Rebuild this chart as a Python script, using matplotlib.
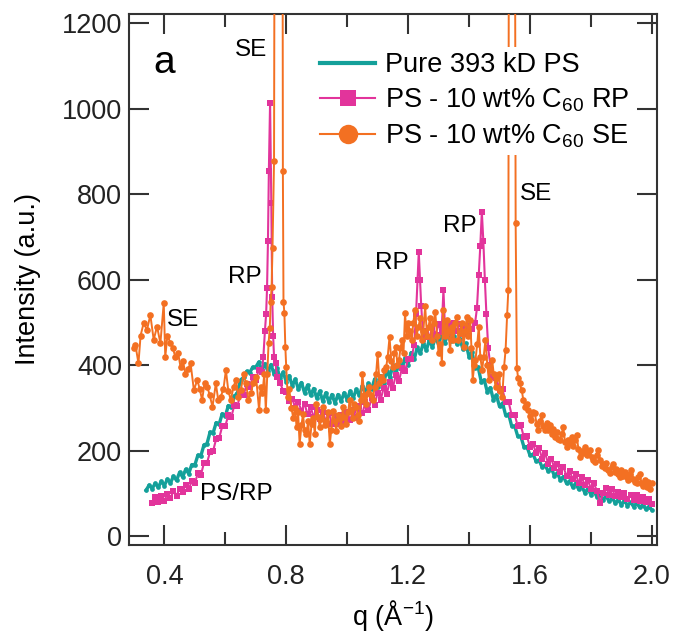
import matplotlib.pyplot as plt
from matplotlib.lines import Line2D

plt.rcParams['font.family'] = ['Liberation Sans', 'DejaVu Sans']
plt.rcParams['mathtext.fontset'] = 'custom'
plt.rcParams['mathtext.rm'] = 'Liberation Sans'
plt.rcParams['mathtext.it'] = 'Liberation Sans:italic'

# Pure 393 kD PS
q_ps = [0.34, 0.35, 0.36, 0.37, 0.38, 0.39, 0.40, 0.41, 0.42, 0.43,
        0.44, 0.45, 0.46, 0.47, 0.48, 0.49, 0.50, 0.51, 0.52, 0.53,
        0.54, 0.55, 0.56, 0.57, 0.58, 0.59, 0.60, 0.61, 0.62, 0.63,
        0.64, 0.65, 0.66, 0.67, 0.68, 0.69, 0.70, 0.71, 0.72, 0.73,
        0.74, 0.75, 0.76, 0.77, 0.78, 0.79, 0.80, 0.81, 0.82, 0.83,
        0.84, 0.85, 0.86, 0.87, 0.88, 0.89, 0.90, 0.91, 0.92, 0.93,
        0.94, 0.95, 0.96, 0.97, 0.98, 0.99, 1.00, 1.01, 1.02, 1.03,
        1.04, 1.05, 1.06, 1.07, 1.08, 1.09, 1.10, 1.11, 1.12, 1.13,
        1.14, 1.15, 1.16, 1.17, 1.18, 1.19, 1.20, 1.21, 1.22, 1.23,
        1.24, 1.25, 1.26, 1.27, 1.28, 1.29, 1.30, 1.31, 1.32, 1.33,
        1.34, 1.35, 1.36, 1.37, 1.38, 1.39, 1.40, 1.41, 1.42, 1.43,
        1.44, 1.45, 1.46, 1.47, 1.48, 1.49, 1.50, 1.51, 1.52, 1.53,
        1.54, 1.55, 1.56, 1.57, 1.58, 1.59, 1.60, 1.61, 1.62, 1.63,
        1.64, 1.65, 1.66, 1.67, 1.68, 1.69, 1.70, 1.71, 1.72, 1.73,
        1.74, 1.75, 1.76, 1.77, 1.78, 1.79, 1.80, 1.81, 1.82, 1.83,
        1.84, 1.85, 1.86, 1.87, 1.88, 1.89, 1.90, 1.91, 1.92, 1.93,
        1.94, 1.95, 1.96, 1.97, 1.98, 1.99, 2.00]
i_ps = [108, 120, 112, 124, 115, 129, 119, 134, 125, 141,
        131, 150, 139, 157, 147, 168, 167, 190, 189, 214,
        217, 244, 242, 266, 263, 287, 281, 306, 302, 328,
        336, 366, 372, 386, 383, 396, 396, 408, 388, 404,
        386, 402, 380, 394, 370, 384, 362, 376, 352, 368,
        344, 360, 336, 354, 330, 346, 324, 340, 316, 336,
        314, 332, 312, 332, 316, 336, 320, 340, 324, 344,
        330, 352, 336, 358, 344, 368, 350, 376, 360, 388,
        372, 400, 380, 406, 392, 418, 402, 430, 414, 442,
        428, 452, 436, 460, 442, 468, 448, 476, 452, 472,
        456, 470, 450, 462, 438, 452, 420, 432, 394, 396,
        362, 366, 338, 348, 320, 330, 304, 312, 284, 286,
        258, 258, 234, 234, 210, 210, 190, 192, 176, 178,
        162, 166, 152, 160, 142, 148, 132, 140, 124, 130,
        116, 124, 110, 118, 102, 112, 98, 106, 92, 100,
        86, 94, 82, 90, 78, 86, 74, 84, 72, 80,
        70, 78, 68, 74, 64, 70, 62]

# PS - 10 wt% C60, RP
q_rp = [0.36, 0.37, 0.38, 0.39, 0.40, 0.41, 0.42, 0.43, 0.44, 0.45,
        0.46, 0.47, 0.48, 0.49, 0.50, 0.51, 0.52, 0.53, 0.54, 0.55,
        0.56, 0.57, 0.58, 0.59, 0.60, 0.61, 0.62, 0.63, 0.64, 0.65,
        0.66, 0.67, 0.68, 0.69, 0.70, 0.71, 0.72, 0.725, 0.73, 0.734,
        0.737, 0.740, 0.743, 0.747, 0.751, 0.754, 0.757, 0.760, 0.765, 0.77,
        0.78, 0.79, 0.80, 0.81, 0.82, 0.83, 0.84, 0.85, 0.86, 0.87,
        0.88, 0.89, 0.90, 0.91, 0.92, 0.93, 0.94, 0.95, 0.96, 0.97,
        0.98, 0.99, 1.00, 1.01, 1.02, 1.03, 1.04, 1.05, 1.06, 1.07,
        1.08, 1.09, 1.10, 1.11, 1.12, 1.13, 1.14, 1.15, 1.16, 1.17,
        1.18, 1.19, 1.20, 1.21, 1.22, 1.226, 1.231, 1.235, 1.239, 1.243,
        1.25, 1.26, 1.27, 1.28, 1.29, 1.30, 1.31, 1.316, 1.322, 1.33,
        1.34, 1.35, 1.36, 1.37, 1.38, 1.39, 1.40, 1.41, 1.42, 1.426,
        1.432, 1.437, 1.442, 1.447, 1.452, 1.457, 1.463, 1.47, 1.48, 1.49,
        1.50, 1.51, 1.52, 1.53, 1.54, 1.55, 1.56, 1.57, 1.58, 1.59,
        1.60, 1.61, 1.62, 1.63, 1.64, 1.65, 1.66, 1.67, 1.68, 1.69,
        1.70, 1.71, 1.72, 1.73, 1.74, 1.75, 1.76, 1.77, 1.78, 1.79,
        1.80, 1.81, 1.82, 1.83, 1.84, 1.85, 1.86, 1.87, 1.88, 1.89,
        1.90, 1.91, 1.92, 1.93, 1.94, 1.95, 1.96, 1.97, 1.98, 1.99,
        2.00]
i_rp = [78, 92, 80, 95, 84, 99, 90, 106, 95, 112,
        104, 121, 110, 130, 124, 148, 144, 172, 172, 198,
        200, 228, 230, 258, 258, 284, 280, 308, 306, 334,
        330, 356, 350, 372, 366, 390, 384, 420, 480, 520,
        580, 690, 855, 1015, 780, 560, 470, 420, 405, 372,
        360, 340, 338, 316, 322, 300, 314, 294, 310, 286,
        302, 280, 296, 274, 292, 270, 288, 264, 282, 262,
        284, 266, 290, 272, 296, 278, 304, 288, 314, 296,
        324, 308, 336, 320, 348, 334, 362, 348, 378, 364,
        394, 386, 416, 414, 448, 520, 600, 665, 600, 540,
        462, 480, 466, 490, 472, 496, 478, 577, 470, 496,
        476, 500, 480, 498, 474, 492, 468, 486, 500, 534,
        612, 680, 760, 690, 600, 520, 440, 400, 372, 370,
        342, 344, 314, 314, 284, 284, 258, 260, 232, 234,
        210, 216, 196, 206, 182, 194, 170, 182, 160, 170,
        150, 162, 142, 154, 134, 146, 126, 138, 120, 132,
        112, 124, 106, 78, 102, 114, 98, 110, 94, 104,
        92, 102, 88, 98, 86, 96, 82, 92, 80, 88,
        76]

# PS - 10 wt% C60, SE
q_se = [0.300, 0.305, 0.315, 0.322, 0.332, 0.343, 0.354, 0.365, 0.376, 0.387,
        0.398, 0.403, 0.410, 0.420, 0.428, 0.436, 0.445, 0.453, 0.461, 0.469,
        0.478, 0.486, 0.497, 0.508, 0.516, 0.524, 0.532, 0.541, 0.549, 0.558,
        0.569, 0.577, 0.585, 0.594, 0.602, 0.610, 0.618, 0.627, 0.635, 0.643,
        0.651, 0.660, 0.668, 0.676, 0.684, 0.692, 0.701, 0.711, 0.716, 0.722,
        0.728, 0.733, 0.738, 0.742, 0.746, 0.749, 0.752, 0.755, 0.760, 0.766,
        0.776, 0.786, 0.789, 0.791, 0.794, 0.797, 0.800, 0.805, 0.810, 0.817,
        0.823, 0.829, 0.834, 0.839, 0.844, 0.850, 0.855, 0.860, 0.866, 0.872,
        0.877, 0.883, 0.888, 0.894, 0.899, 0.905, 0.910, 0.915, 0.920, 0.926,
        0.932, 0.937, 0.943, 0.948, 0.953, 0.959, 0.964, 0.970, 0.975, 0.980,
        0.986, 0.990, 0.997, 1.003, 1.008, 1.013, 1.018, 1.024, 1.030, 1.035,
        1.040, 1.045, 1.050, 1.056, 1.062, 1.067, 1.073, 1.078, 1.084, 1.090,
        1.095, 1.100, 1.106, 1.111, 1.117, 1.122, 1.128, 1.133, 1.139, 1.145,
        1.150, 1.155, 1.160, 1.165, 1.170, 1.175, 1.180, 1.185, 1.190, 1.195,
        1.200, 1.206, 1.212, 1.217, 1.223, 1.228, 1.234, 1.240, 1.245, 1.250,
        1.256, 1.262, 1.267, 1.272, 1.278, 1.284, 1.289, 1.295, 1.300, 1.306,
        1.311, 1.315, 1.321, 1.327, 1.332, 1.338, 1.343, 1.349, 1.354, 1.360,
        1.365, 1.370, 1.376, 1.382, 1.387, 1.393, 1.398, 1.404, 1.408, 1.412,
        1.417, 1.421, 1.427, 1.432, 1.437, 1.443, 1.448, 1.454, 1.460, 1.465,
        1.470, 1.476, 1.481, 1.487, 1.492, 1.498, 1.503, 1.509, 1.515, 1.520,
        1.525, 1.529, 1.533, 1.540, 1.548, 1.553, 1.557, 1.561, 1.566, 1.573,
        1.578, 1.584, 1.589, 1.595, 1.600, 1.605, 1.611, 1.616, 1.622, 1.627,
        1.633, 1.638, 1.644, 1.649, 1.655, 1.660, 1.666, 1.671, 1.677, 1.682,
        1.688, 1.693, 1.698, 1.704, 1.709, 1.715, 1.720, 1.726, 1.731, 1.737,
        1.742, 1.748, 1.753, 1.759, 1.764, 1.770, 1.775, 1.780, 1.786, 1.791,
        1.797, 1.802, 1.808, 1.813, 1.819, 1.824, 1.830, 1.835, 1.840, 1.846,
        1.851, 1.857, 1.862, 1.868, 1.873, 1.879, 1.884, 1.890, 1.895, 1.900,
        1.906, 1.911, 1.917, 1.922, 1.928, 1.933, 1.939, 1.944, 1.950, 1.955,
        1.960, 1.966, 1.971, 1.977, 1.983, 1.988, 1.994, 1.999]
i_se = [440, 448, 405, 470, 499, 483, 518, 460, 491, 452,
        546, 420, 470, 452, 440, 420, 430, 397, 410, 381,
        392, 405, 342, 366, 345, 319, 360, 350, 330, 303,
        358, 318, 327, 345, 389, 340, 319, 350, 366, 325,
        342, 380, 358, 320, 335, 360, 374, 295, 350, 335,
        380, 295, 380, 452, 487, 549, 584, 675, 878, 3000,
        3400, 2800, 854, 549, 522, 444, 396, 325, 345, 300,
        278, 300, 255, 290, 216, 260, 286, 250, 239, 270,
        216, 262, 278, 240, 310, 280, 255, 275, 302, 260,
        271, 290, 216, 250, 294, 270, 247, 285, 278, 258,
        302, 280, 263, 290, 318, 295, 278, 310, 302, 285,
        271, 320, 380, 330, 310, 335, 349, 330, 318, 350,
        380, 427, 360, 372, 365, 390, 396, 420, 466, 410,
        396, 430, 443, 400, 412, 440, 459, 430, 522, 470,
        499, 480, 460, 500, 530, 470, 491, 510, 460, 480,
        538, 470, 491, 510, 460, 500, 526, 470, 428, 450,
        405, 530, 470, 506, 480, 436, 490, 460, 500, 514,
        460, 475, 500, 444, 480, 514, 470, 506, 440, 366,
        400, 413, 450, 491, 420, 389, 420, 460, 400, 366,
        390, 413, 380, 350, 370, 381, 340, 327, 397, 436,
        518, 577, 2600, 3200, 2400, 733, 394, 371, 358, 342,
        320, 303, 310, 295, 282, 272, 290, 288, 262, 249,
        270, 284, 258, 249, 265, 250, 260, 240, 252, 233,
        245, 228, 225, 240, 256, 222, 209, 225, 218, 233,
        212, 225, 237, 205, 186, 200, 195, 209, 190, 198,
        202, 185, 178, 174, 190, 202, 178, 165, 170, 160,
        172, 155, 148, 162, 170, 150, 158, 147, 140, 155,
        142, 150, 139, 132, 145, 155, 135, 128, 124, 138,
        147, 125, 118, 132, 116, 128, 112, 124]

teal = '#14a09a'
pink = '#e2349b'
orange = '#f37022'
axis_col = '#333333'

fig = plt.figure(figsize=(6.73, 6.34), dpi=100)
ax = fig.add_axes([0.1917, 0.1404, 0.7841, 0.8375])

ax.plot(q_ps, i_ps, color=teal, lw=2.4, marker='o', ms=3.4, mew=0, zorder=2)
ax.plot(q_rp, i_rp, color=pink, lw=1.5, marker='s', ms=3.9, mew=0, zorder=3)
ax.plot(q_se, i_se, color=orange, lw=1.4, marker='o', ms=4.8, mew=0, zorder=4)

ax.set_xlim(0.284, 2.016)
ax.set_ylim(-20, 1222)
ax.set_xticks([0.4, 0.8, 1.2, 1.6, 2.0])
ax.set_xticklabels(['0.4', '0.8', '1.2', '1.6', '2.0'])
ax.set_xticks([0.6, 1.0, 1.4, 1.8], minor=True)
ax.set_yticks([0, 200, 400, 600, 800, 1000, 1200])

for s in ax.spines.values():
    s.set_linewidth(1.5)
    s.set_color(axis_col)
ax.tick_params(which='both', direction='in', top=True, right=True,
               color=axis_col, width=1.5, labelsize=19.5, labelcolor='#222222')
ax.tick_params(which='major', length=14.5)
ax.tick_params(which='minor', length=9.5)
ax.tick_params(axis='x', pad=14)
ax.tick_params(axis='y', pad=5)

ax.set_xlabel(r'q (Å$\mathregular{^{-1}}$)', fontsize=19.5)
ax.set_ylabel('Intensity (a.u.)', fontsize=19.5)
ax.xaxis.set_label_coords(0.5, -0.1)
ax.yaxis.set_label_coords(-0.167, 0.5)

# annotations
ax.text(0.399, 1108, 'a', fontsize=28, ha='center', va='center')
ax.text(0.736, 1138, 'SE', fontsize=17.5, ha='right', va='center')
ax.text(0.72, 608, 'RP', fontsize=17.5, ha='right', va='center')
ax.text(0.408, 506, 'SE', fontsize=17.5, ha='left', va='center')
ax.text(0.517, 99, 'PS/RP', fontsize=17.5, ha='left', va='center')
ax.text(1.201, 640, 'RP', fontsize=17.5, ha='right', va='center')
ax.text(1.426, 726, 'RP', fontsize=17.5, ha='right', va='center')
ax.text(1.568, 801, 'SE', fontsize=17.5, ha='left', va='center')

handles = [Line2D([], [], color=teal, lw=3),
           Line2D([], [], color=pink, lw=1.5, marker='s', ms=12, mew=0),
           Line2D([], [], color=orange, lw=1.5, marker='o', ms=14, mew=0)]
labels = ['Pure 393 kD PS',
          r'PS - 10 wt% C$\mathregular{_{60}}$ RP',
          r'PS - 10 wt% C$\mathregular{_{60}}$ SE']
leg = ax.legend(handles, labels, loc='upper left', bbox_to_anchor=(0.3526, 0.938),
                fontsize=19.5, frameon=True, fancybox=False, edgecolor='none',
                facecolor='white', framealpha=1, borderpad=0.2, borderaxespad=0,
                handlelength=2.0, handletextpad=0.4, labelspacing=0.3)
leg.set_zorder(6)

fig.savefig('out.png', dpi=100)
